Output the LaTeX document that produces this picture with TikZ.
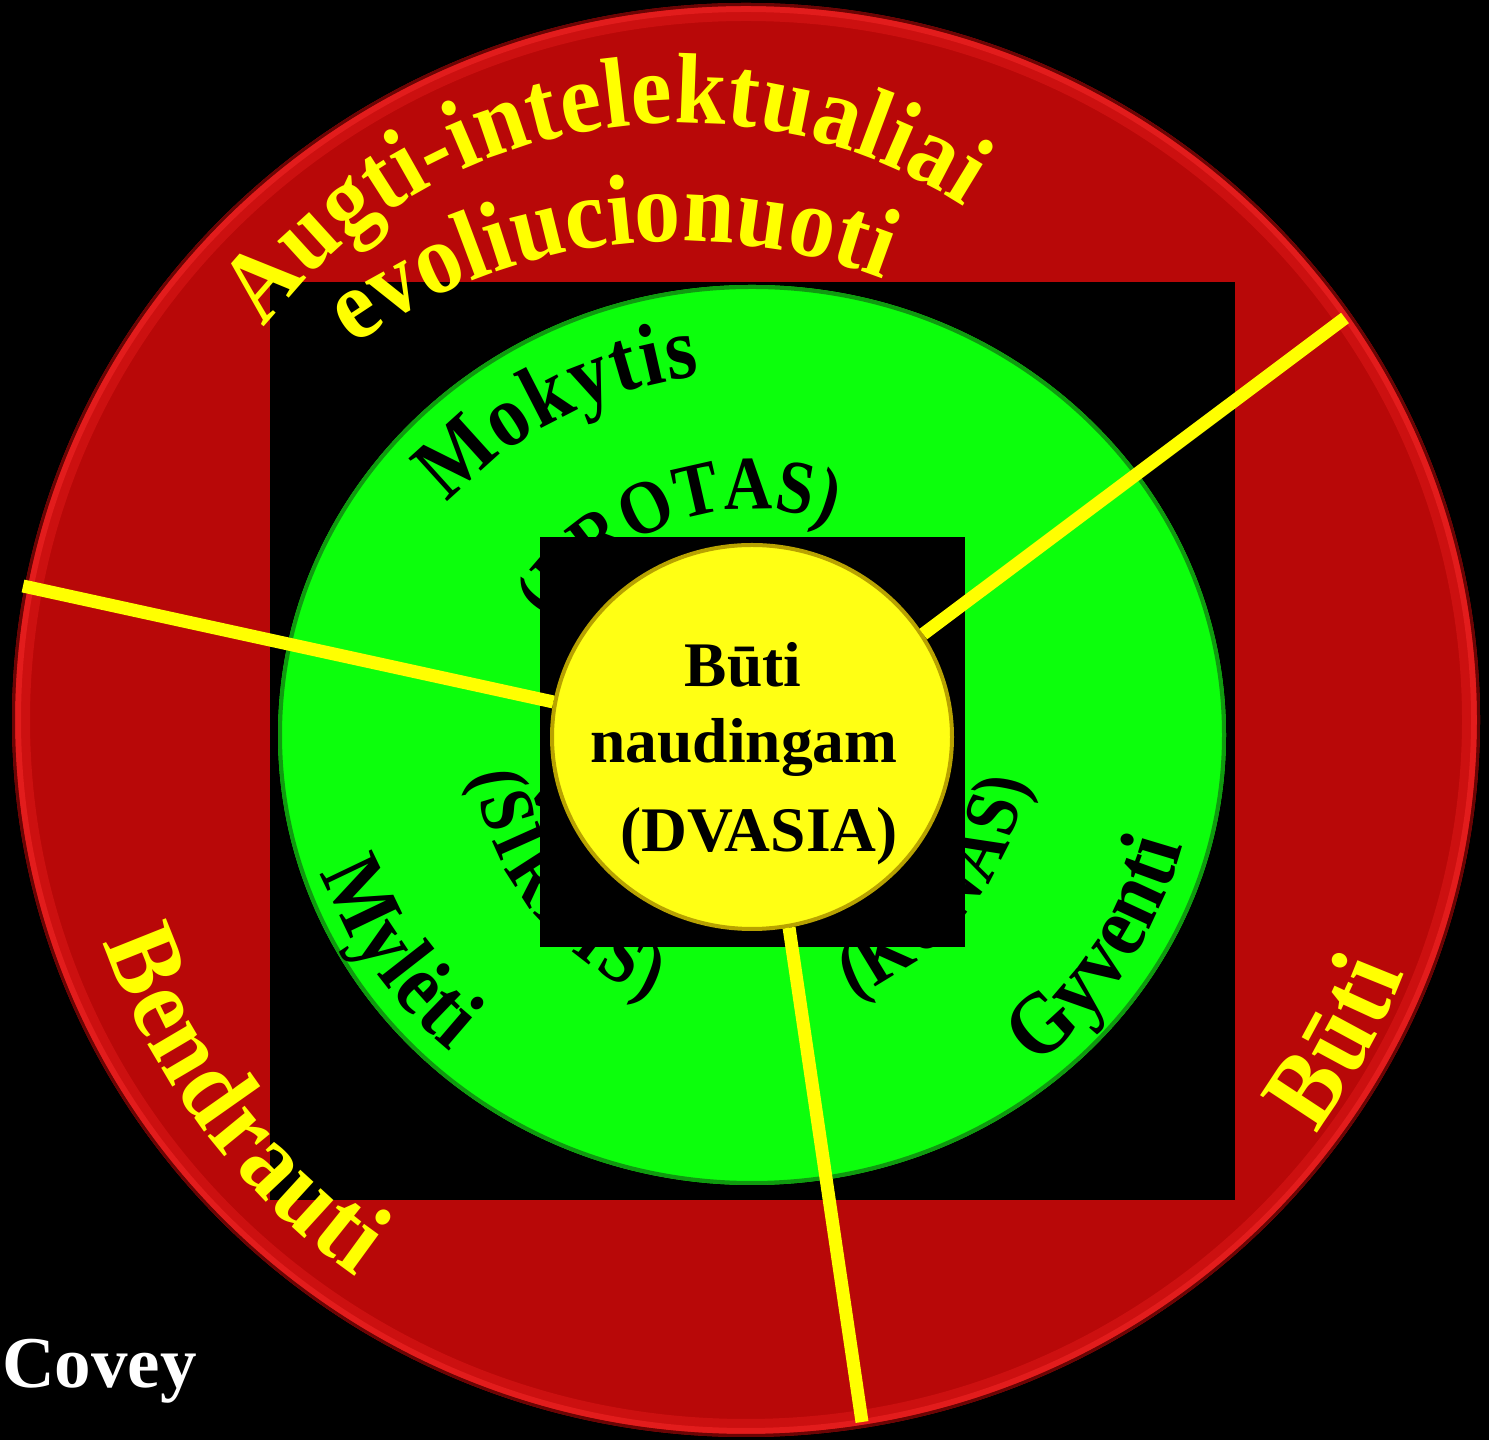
\documentclass[tikz,border=0pt]{standalone}
\usepackage{fontspec}
\setmainfont{Liberation Serif}
\newfontfamily\arcfont{Liberation Serif}[FakeStretch=0.92]
\newfontfamily\arcfontg{Liberation Serif}[FakeStretch=0.9]
\newfontfamily\arcfontp{Liberation Serif}[FakeStretch=0.88]
\usetikzlibrary{shapes.geometric,decorations.text}
\definecolor{yl}{HTML}{FFFF00}
\definecolor{ycore}{HTML}{FFFF14}
\definecolor{yedge}{HTML}{B8A200}
\definecolor{redbase}{HTML}{B80808}
\definecolor{redmid}{HTML}{CC1010}
\definecolor{redlight}{HTML}{E21C1C}
\definecolor{reddark}{HTML}{6A0404}
\definecolor{gbase}{HTML}{0CFF0C}
\definecolor{gedge}{HTML}{109A10}
\newcommand\fbig{\arcfont\bfseries\fontsize{100}{100}\selectfont}
\newcommand\fbigb{\arcfont\bfseries\fontsize{104}{104}\selectfont}
\newcommand\fmid{\arcfontg\bfseries\fontsize{88}{88}\selectfont}
\newcommand\fpar{\arcfontp\bfseries\fontsize{76}{76}\selectfont}
\tikzset{
  arctext/.style 2 args={decorate, decoration={text along path, text align=fit to path, text color=#1, text={#2}}},
  ctext/.style={font=\bfseries\fontsize{63.5}{63.5}\selectfont, text=black, inner sep=0pt, anchor=base},
  yline/.style={draw=yl, line width=13pt},
}
\begin{document}
\begin{tikzpicture}[x=1pt,y=1pt]
\useasboundingbox (0,0) rectangle (1489,1440);
\fill[black] (0,0) rectangle (1489,1440);
% outer red disc with a soft bright rim
\fill[redbase] (746,720) ellipse [x radius=734, y radius=717];
\draw[redmid, line width=10pt] (746,720) ellipse [x radius=721, y radius=704];
\draw[redlight, line width=6pt] (746,720) ellipse [x radius=728, y radius=711];
\draw[reddark, line width=3pt] (746,720) ellipse [x radius=732.5, y radius=715.5];
% black square
\fill[black] (270,240) rectangle (1235,1158);
% green disc
\fill[gbase] (752,705) ellipse [x radius=474, y radius=450];
\draw[gedge, line width=4pt] (752,705) ellipse [x radius=472, y radius=448];
% black words on green
\path[arctext={black}{|\fmid|Mokytis}] ([shift={(140.3:395 and 362)}]752,705) arc[start angle=140.3, end angle=97.6, x radius=395, y radius=362];
\path[arctext={black}{|\fpar|(PROTAS)}] ([shift={(150:228)}]752,703) arc[start angle=150, end angle=69.6, radius=228];
\path[arctext={black}{|\fpar|(ŠIRDIS)}] ([shift={(187.4:280)}]752,703) arc[start angle=187.4, end angle=249, radius=280];
\path[arctext={black}{|\fpar|(KŪNAS)}] ([shift={(291:278)}]752,703) arc[start angle=291, end angle=351, radius=278];
\path[arctext={black}{|\fmid|Mylėti}] ([shift={(198.8:455 and 420)}]752,703) arc[start angle=198.8, end angle=228.5, x radius=455, y radius=420];
\path[arctext={black}{|\fmid|Gyventi}] ([shift={(309.8:445 and 428)}]752,703) arc[start angle=309.8, end angle=345.2, x radius=445, y radius=428];
% inner black square
\fill[black] (540,493) rectangle (965,903);
% yellow centre
\node[ellipse, fill=ycore, draw=yedge, line width=4pt, minimum width=400pt, minimum height=384pt, inner sep=0pt] (yc) at (752,703) {};
\node[ctext] (t1) at (743,753) {Būti};
\node[ctext] (t2) at (744,677) {naudingam};
\node[ctext] (t3) at (759,588) {(DVASIA)};
% yellow spokes
\coordinate (o1) at (23,854);
\coordinate (o2) at (1345,1122);
\coordinate (o3) at (862,18);
\draw[yline] (o1) -- (yc.170);
\draw[yline] (o2) -- (yc.31);
\draw[yline] (o3) -- (yc.281);
% yellow words on red
\path[arctext={yl}{|\fbig|Augti-intelektualiai}] ([shift={(142.4:525)}]680,792) arc[start angle=142.4, end angle=57.2, radius=525];
\path[arctext={yl}{|\fbig|evoliucionuoti}] ([shift={(125.5:562)}]680,637) arc[start angle=125.5, end angle=68.8, radius=562];
\path[arctext={yl}{|\fbigb|Bendrauti}] ([shift={(199.1:680)}]746,720) arc[start angle=199.1, end angle=235, radius=680];
\path[arctext={yl}{|\fbigb|Būti}] ([shift={(324:705)}]746,720) arc[start angle=324, end angle=339, radius=705];
% signature
\node[font=\bfseries\fontsize{73}{73}\selectfont, text=white, anchor=base west, inner sep=0pt] (cv) at (2,52) {Covey};
\end{tikzpicture}
\end{document}
